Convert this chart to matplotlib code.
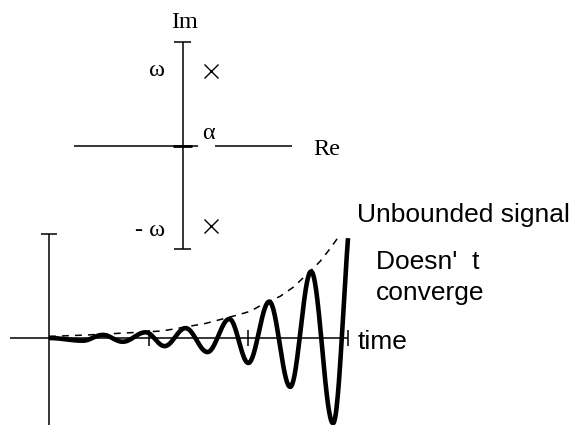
import numpy as np
import matplotlib
matplotlib.use("Agg")
import matplotlib.pyplot as plt

# ---------------- data ----------------
# pole positions (Re, Im) in units of omega
pole_re = [0.375, 0.375]
pole_im = [1.0, -1.06]

# extrema of the growing oscillation (time units = tick spacing, amplitude units = axis height)
sig_t = [0.0, 0.34, 0.54, 0.74, 0.97, 1.16, 1.37, 1.59, 1.81, 2.00, 2.21, 2.42, 2.63, 2.85, 3.00]
sig_v = [0.0, -0.026, 0.03, -0.036, 0.055, -0.078, 0.095, -0.135, 0.183, -0.24, 0.35, -0.47, 0.64, -0.82, 0.96]

# dashed exponential envelope
env_t = [0.0, 0.38, 0.76, 1.13, 1.31, 1.57, 1.88, 2.02, 2.15, 2.32, 2.45, 2.62, 2.72, 2.82, 2.92]
env_v = [0.015, 0.029, 0.048, 0.067, 0.096, 0.14, 0.218, 0.257, 0.327, 0.401, 0.488, 0.641, 0.737, 0.859, 0.993]

time_ticks = [1, 2, 3]

W, H = 572, 425
fig = plt.figure(figsize=(W / 100, H / 100), dpi=100)
fig.patch.set_facecolor("white")

serif = "Liberation Serif"
sans = "Liberation Sans"
lw_ax = 1.1

# ---------------- pole diagram ----------------
S = 75.5          # px per unit
ox, oy = 182.5, 146
ax_p = fig.add_axes([0, 0, 1, 1])
ax_p.set_xlim(-ox / S, (W - ox) / S)
ax_p.set_ylim((oy - H) / S, oy / S)
ax_p.axis("off")
ax_p.patch.set_alpha(0)

re_l, re_gap0, re_gap1, re_r = -1.437, 0.205, 0.430, 1.450
im_t, im_b = 1.377, -1.364
cap = 0.119
k = dict(color="black", lw=lw_ax, solid_capstyle="butt")
ax_p.plot([re_l, re_gap0], [0, 0], **k)
ax_p.plot([re_gap1, re_r], [0, 0], **k)
ax_p.plot([-0.125, 0.125], [0, 0], color="black", lw=2.0, solid_capstyle="butt")
ax_p.plot([0, 0], [im_b, im_t], **k)
ax_p.plot([-cap, cap], [im_t, im_t], **k)
ax_p.plot([-cap, cap], [im_b, im_b], **k)
ax_p.plot(pole_re, pole_im, linestyle="none", marker="x", markersize=10.5,
          markeredgewidth=1.0, color="black")

fs_s = 17.5
ax_p.text(0.026, 1.563, "Im", family=serif, fontsize=fs_s, ha="center", va="baseline")
ax_p.text(1.728, -0.119, "Re", family=serif, fontsize=fs_s, ha="left", va="baseline")
ax_p.text(0.338, 0.172, "α", family=serif, fontsize=fs_s, ha="center", va="center")
ax_p.text(-0.232, pole_im[0], "ω", family=serif, fontsize=fs_s, ha="right", va="center")
ax_p.text(-0.232, -1.113, "- ω", family=serif, fontsize=fs_s, ha="right", va="center")

# ---------------- time signal ----------------
TX, TY = 99.67, 104.0
sx, sy = 49, 338
ax_s = fig.add_axes([0, 0, 1, 1])
ax_s.set_xlim(-sx / TX, (W - sx) / TX)
ax_s.set_ylim(-(H - sy) / TY, sy / TY)
ax_s.axis("off")
ax_s.patch.set_alpha(0)

ax_s.plot([-0.39, 3.0], [0, 0], **k)
ax_s.plot([0, 0], [-1.0, 1.0], **k)
ax_s.plot([-0.085, 0.085], [1.0, 1.0], **k)
for tt in time_ticks:
    ax_s.plot([tt, tt], [-0.077, 0.077], **k)

# smooth curve through the extrema (cosine easing between successive extrema)
ct, cv = [], []
n = len(sig_t)
for i in range(n - 1):
    s = np.linspace(0, 1, 40)
    if i == n - 2:
        w = (1 - np.cos(np.pi * 0.72 * s)) / (1 - np.cos(np.pi * 0.72))
    else:
        w = (1 - np.cos(np.pi * s)) / 2
    ct.append(sig_t[i] + (sig_t[i + 1] - sig_t[i]) * s)
    cv.append(sig_v[i] + (sig_v[i + 1] - sig_v[i]) * w)
ct = np.concatenate(ct)
cv = np.concatenate(cv)

ax_s.plot(env_t, env_v, color="black", lw=1.1, linestyle=(0, (4.5, 4)))
ax_s.plot(ct, cv, color="black", lw=3.3, solid_capstyle="butt", solid_joinstyle="round")

fs = 19
ax_s.text(3.10, -0.038, "time", family=sans, fontsize=fs, ha="left", va="center")
ax_s.text(3.09, 1.115, "Unbounded signal", family=sans, fontsize=fs, ha="left", va="baseline")
ax_s.text(3.28, 0.663, "Doesn'  t", family=sans, fontsize=fs, ha="left", va="baseline")
ax_s.text(3.28, 0.365, "converge", family=sans, fontsize=fs, ha="left", va="baseline")

fig.savefig("out.png", dpi=100, facecolor="white")
